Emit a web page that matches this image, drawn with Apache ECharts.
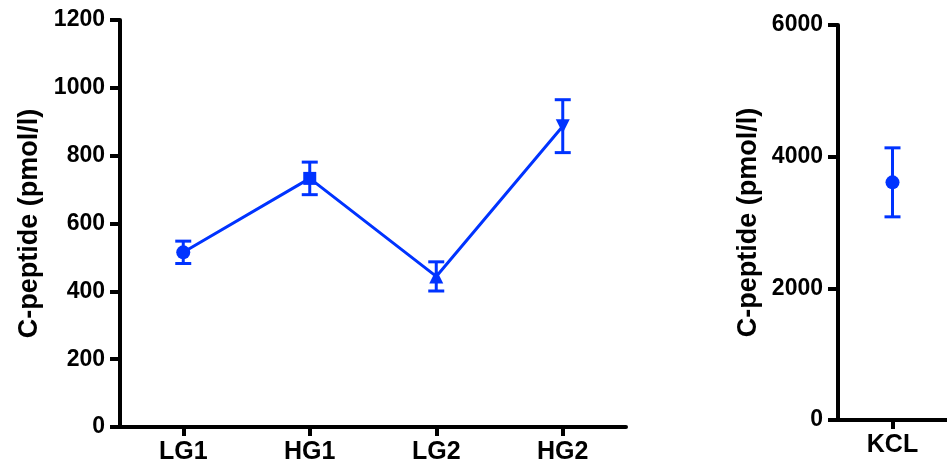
<!DOCTYPE html>
<html>
<head>
<meta charset="utf-8">
<script src="https://cdn.jsdelivr.net/npm/echarts@6/dist/echarts.min.js"></script>
<style>
  html, body { margin: 0; padding: 0; background: #fff; }
  #chart { width: 947px; height: 473px; }
</style>
</head>
<body>
<div id="chart"></div>
<script>
// C-peptide secretion: glucose steps (mean ± SEM) and KCL stimulation
const groups = ['LG1', 'HG1', 'LG2', 'HG2'];
const groupMeans = [515, 733, 444, 887];
const groupErrors = [33, 48, 43, 78];

const kclCategory = ['KCL'];
const kclMeans = [3610];
const kclErrors = [524];

const leftTicks = { min: 0, max: 1200, interval: 200 };
const rightTicks = { min: 0, max: 6000, interval: 2000 };

const BLUE = '#0033ff';
const FONT = 'Liberation Sans, Arial, sans-serif';
const yTitle = 'C-peptide (pmol/l)';

// marker shape for each glucose step
const markerShapes = [
  { symbol: 'circle', size: 14, rotate: 0 },
  { symbol: 'rect', size: 13, rotate: 0 },
  { symbol: 'triangle', size: 14, rotate: 0 },
  { symbol: 'triangle', size: 14, rotate: 180 }
];

function errorBarRenderer(params, api) {
  const x = api.value(0);
  const top = api.coord([x, api.value(2)]);
  const bottom = api.coord([x, api.value(1)]);
  const half = 8;
  const style = { stroke: BLUE, lineWidth: 3, fill: null };
  return {
    type: 'group',
    children: [
      { type: 'line', shape: { x1: top[0], y1: top[1], x2: bottom[0], y2: bottom[1] }, style },
      { type: 'line', shape: { x1: top[0] - half, y1: top[1], x2: top[0] + half, y2: top[1] }, style },
      { type: 'line', shape: { x1: bottom[0] - half, y1: bottom[1], x2: bottom[0] + half, y2: bottom[1] }, style }
    ]
  };
}

function valueAxis(gridIndex, ticks, nameGap) {
  return {
    type: 'value', gridIndex,
    min: ticks.min, max: ticks.max, interval: ticks.interval,
    name: yTitle, nameLocation: 'middle', nameRotate: 90, nameGap,
    nameTextStyle: { fontFamily: FONT, fontWeight: 'bold', fontSize: 27, color: '#000' },
    axisLine: { show: true, lineStyle: { color: '#000', width: 4 } },
    axisTick: { show: true, length: 10, lineStyle: { color: '#000', width: 4 } },
    axisLabel: {
      fontFamily: FONT, fontWeight: 'bold', fontSize: 23, color: '#000', margin: 15,
      formatter: v => String(v)
    },
    splitLine: { show: false }
  };
}

function categoryAxis(gridIndex, cats) {
  return {
    type: 'category', gridIndex, data: cats, boundaryGap: true,
    axisLine: { show: true, lineStyle: { color: '#000', width: 4 } },
    axisTick: { show: true, alignWithLabel: true, length: 9, lineStyle: { color: '#000', width: 4 } },
    axisLabel: { fontFamily: FONT, fontWeight: 'bold', fontSize: 25, color: '#000', margin: 13 },
    splitLine: { show: false }
  };
}

const chart = echarts.init(document.getElementById('chart'), null, { renderer: 'canvas' });

chart.setOption({
  animation: false,
  backgroundColor: '#fff',
  grid: [
    { left: 120, top: 20, width: 506, height: 407 },
    { left: 838, top: 25, width: 120, height: 395 }
  ],
  xAxis: [categoryAxis(0, groups), categoryAxis(1, kclCategory)],
  yAxis: [valueAxis(0, leftTicks, 77), valueAxis(1, rightTicks, 76)],
  series: [
    {
      type: 'custom', xAxisIndex: 0, yAxisIndex: 0,
      renderItem: errorBarRenderer,
      encode: { x: 0, y: [1, 2] },
      data: groups.map((g, i) => [i, groupMeans[i] - groupErrors[i], groupMeans[i] + groupErrors[i]]),
      z: 2
    },
    {
      type: 'line', xAxisIndex: 0, yAxisIndex: 0,
      data: groupMeans.map((v, i) => ({
        value: v,
        symbol: markerShapes[i].symbol,
        symbolSize: markerShapes[i].size,
        symbolRotate: markerShapes[i].rotate
      })),
      lineStyle: { color: BLUE, width: 3 },
      itemStyle: { color: BLUE, borderWidth: 0 },
      showAllSymbol: true,
      z: 3
    },
    {
      type: 'custom', xAxisIndex: 1, yAxisIndex: 1,
      renderItem: errorBarRenderer,
      encode: { x: 0, y: [1, 2] },
      data: kclCategory.map((c, i) => [i, kclMeans[i] - kclErrors[i], kclMeans[i] + kclErrors[i]]),
      z: 2
    },
    {
      type: 'line', xAxisIndex: 1, yAxisIndex: 1,
      data: kclMeans,
      symbol: 'circle', symbolSize: 14,
      lineStyle: { color: BLUE, width: 3 },
      itemStyle: { color: BLUE, borderWidth: 0 },
      z: 3
    }
  ]
});
</script>
</body>
</html>
